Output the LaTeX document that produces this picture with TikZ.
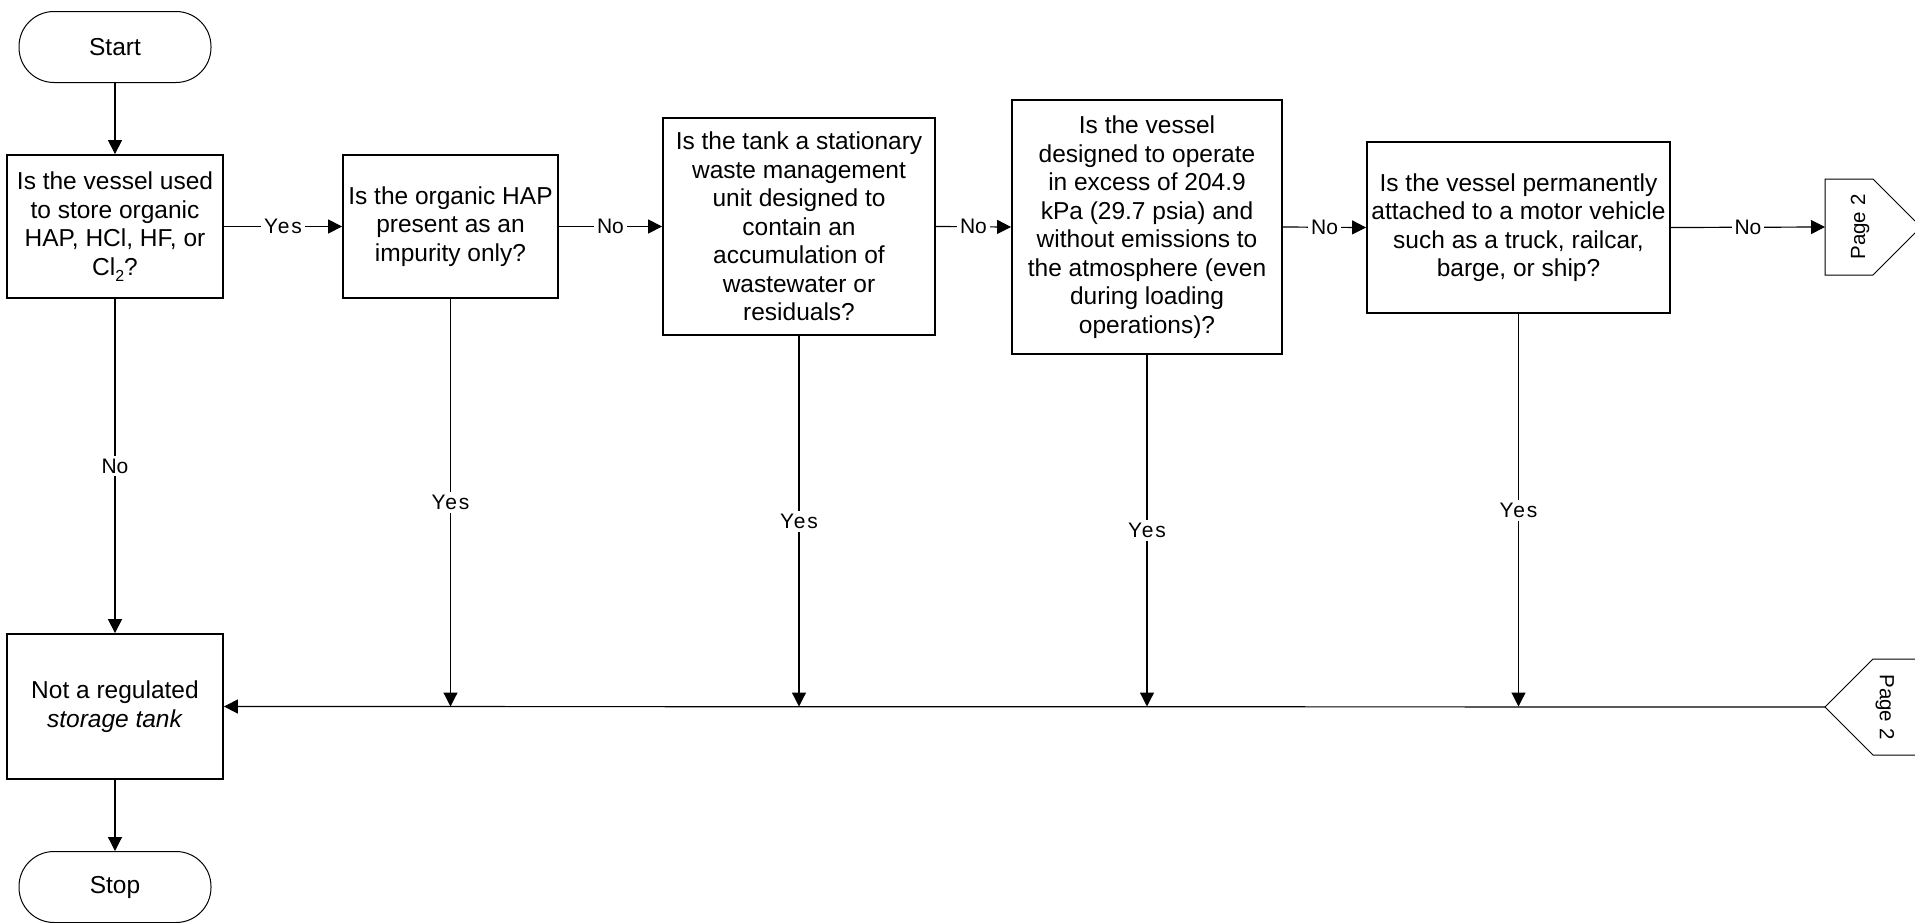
\documentclass[tikz,border=0pt]{standalone}
\usepackage{fontspec}
\setmainfont{Liberation Sans}
\usetikzlibrary{arrows.meta}
\newcommand{\spacedyes}{{\addfontfeatures{LetterSpace=8}Yes}}
\begin{document}
\begin{tikzpicture}[x=1pt,y=-1pt,
  qbox/.style={draw, line width=1.8pt, align=center, inner sep=2pt,
    font=\fontsize{24.5}{28.5}\selectfont},
  term/.style={draw, line width=1pt, rounded corners=35pt,
    minimum width=192pt, minimum height=71pt,
    font=\fontsize{24.5}{28.5}\selectfont},
  flow/.style={line width=1.2pt, -{Triangle[length=14pt,width=14pt]}},
  lbl/.style={fill=white, inner sep=3pt, font=\fontsize{21}{25}\selectfont},
  offpage/.style={line width=1pt},
  pagetxt/.style={font=\fontsize{20.5}{24}\selectfont, inner sep=0pt},
]
\useasboundingbox (0,0) rectangle (1915,922);

% terminals
\node[term] (start) at (115,47) {Start};
\node[term] (stop)  at (115,887) {Stop};

% decision boxes
\node[qbox, minimum width=216pt, minimum height=143pt] (b1) at (115,226.5)
  {Is the vessel used\\to store organic\\HAP, HCl, HF, or\\Cl\raisebox{-0.45ex}{\fontsize{16}{16}\selectfont 2}?};
\node[qbox, minimum width=215pt, minimum height=143pt] (b2) at (450.5,226.5)
  {Is the organic HAP\\present as an\\impurity only?};
\node[qbox, minimum width=272pt, minimum height=217pt] (b3) at (799,226.5)
  {Is the tank a stationary\\waste management\\unit designed to\\contain an\\accumulation of\\wastewater or\\residuals?};
\node[qbox, minimum width=270pt, minimum height=254pt] (b4) at (1147,227)
  {Is the vessel\\designed to operate\\in excess of 204.9\\kPa (29.7 psia) and\\without emissions to\\the atmosphere (even\\during loading\\operations)?};
\node[qbox, minimum width=303pt, minimum height=171pt] (b5) at (1518.5,227.5)
  {Is the vessel permanently\\attached to a motor vehicle\\such as a truck, railcar,\\barge, or ship?};

% outcome box
\node[qbox, minimum width=216pt, minimum height=145pt] (nr) at (115,706.5)
  {Not a regulated\\\textit{storage tank}};

% off-page connectors
\draw[offpage] (1825,179) -- (1873,179) -- (1921,227) -- (1873,275) -- (1825,275) -- cycle;
\node[pagetxt, rotate=90] (pga) at (1860,227) {Page 2};
\coordinate (p2a) at (1825,227);
\draw[offpage] (1921,659) -- (1873,659) -- (1825,707) -- (1873,755) -- (1921,755);
\node[pagetxt, rotate=-90] (pgb) at (1885,707) {Page 2};
\coordinate (p2b) at (1825,707);

% main flow
\draw[flow] (start.south) -- (b1.north);
\draw[flow] (b1.east) -- node[lbl] {\spacedyes} (b2.west);
\draw[flow] (b2.east) -- node[lbl] {No} (b3.west);
\draw[flow] (b3.east) -- node[lbl] {No} (b4.west);
\draw[flow] (b4.east) -- node[lbl] {No} (b5.west);
\draw[flow] (b5.east) -- node[lbl] {No} (p2a);

% exits towards the outcome box
\draw[flow] (b1.south) -- node[lbl] {No} (nr.north);
\draw[flow] (b2.south) -- node[lbl] {\spacedyes} (b2.south |- nr.east);
\draw[flow] (b3.south) -- node[lbl] {\spacedyes} (b3.south |- nr.east);
\draw[flow] (b4.south) -- node[lbl] {\spacedyes} (b4.south |- nr.east);
\draw[flow] (b5.south) -- node[lbl] {\spacedyes} (b5.south |- nr.east);
\draw[flow] (p2b) -- (nr.east);
\draw[flow] (nr.south) -- (stop.north);
\end{tikzpicture}
\end{document}
